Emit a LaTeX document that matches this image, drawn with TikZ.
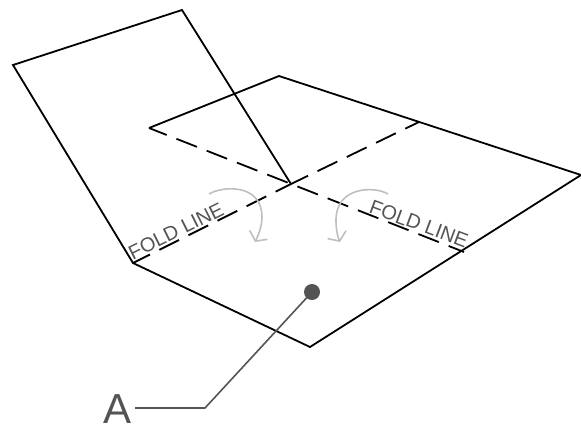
\documentclass[tikz,border=0pt]{standalone}
\usepackage{fontspec}
\setmainfont{Liberation Sans}
\usetikzlibrary{arrows.meta}
\definecolor{labelgray}{gray}{0.33}
\definecolor{arcgray}{gray}{0.75}
\tikzset{
  outline/.style={draw=black,line width=1.8pt,line join=miter},
  foldline/.style={draw=black,line width=1.8pt,dash pattern=on 22pt off 10.5pt,dash phase=3pt},
  foldtext/.style={text=labelgray,font=\fontsize{20}{20}\selectfont,inner sep=0pt},
  foldarrow/.style={draw=arcgray,line width=1.6pt,-{Straight Barb[length=7pt,width=20pt,line width=1.6pt]}},
  leader/.style={draw=labelgray,line width=1.6pt},
  dotmark/.style={circle,fill=labelgray,minimum size=16pt,inner sep=0pt},
  biglabel/.style={text=labelgray,font=\fontsize{42}{42}\selectfont,inner sep=0pt}
}
\begin{document}
\begin{tikzpicture}[x=1pt,y=-1pt]
\useasboundingbox (0,0) rectangle (581,426);
\coordinate (flapL) at (13,65);
\coordinate (flapT) at (182,10);
\coordinate (center) at (291,184);
\coordinate (foldA) at (133,263);
\coordinate (foldB) at (419,122);
\coordinate (backL) at (149,128);
\coordinate (backT) at (279,76);
\coordinate (right) at (581,175);
\coordinate (bottom) at (310,347);
\coordinate (foldC) at (464,252);
\coordinate (elbow) at (205,408);
\draw[outline] (center) -- (flapT) -- (flapL) -- (foldA) -- (bottom) -- (right) -- (backT) -- (backL);
\draw[foldline] (backL) -- (foldC);
\draw[foldline] (foldA) -- (center);
\draw[foldline] (center) -- (foldB);
\node[foldtext,rotate=26.5] (t1) at (176,231) {FOLD LINE};
\node[foldtext,rotate=-20.5] (t2) at (419,224) {FOLD LINE};
\coordinate (a1s) at (209,194);
\coordinate (a1m) at (262,217);
\coordinate (a1e) at (255,242);
\coordinate (a2s) at (388,194);
\coordinate (a2m) at (336,220);
\coordinate (a2e) at (340,242);
\draw[foldarrow] (a1s) .. controls (222,186) and (262,183) .. (a1m) .. controls (262,225) and (259,234) .. (a1e);
\draw[foldarrow] (a2s) .. controls (375,186) and (336,186) .. (a2m) .. controls (336,228) and (337,235) .. (a2e);
\node[dotmark] (dot) at (312,292) {};
\node[biglabel,anchor=base] (A) at (118,423) {A};
\draw[leader] (135,408) -- (elbow) -- (dot.center);
\end{tikzpicture}
\end{document}
